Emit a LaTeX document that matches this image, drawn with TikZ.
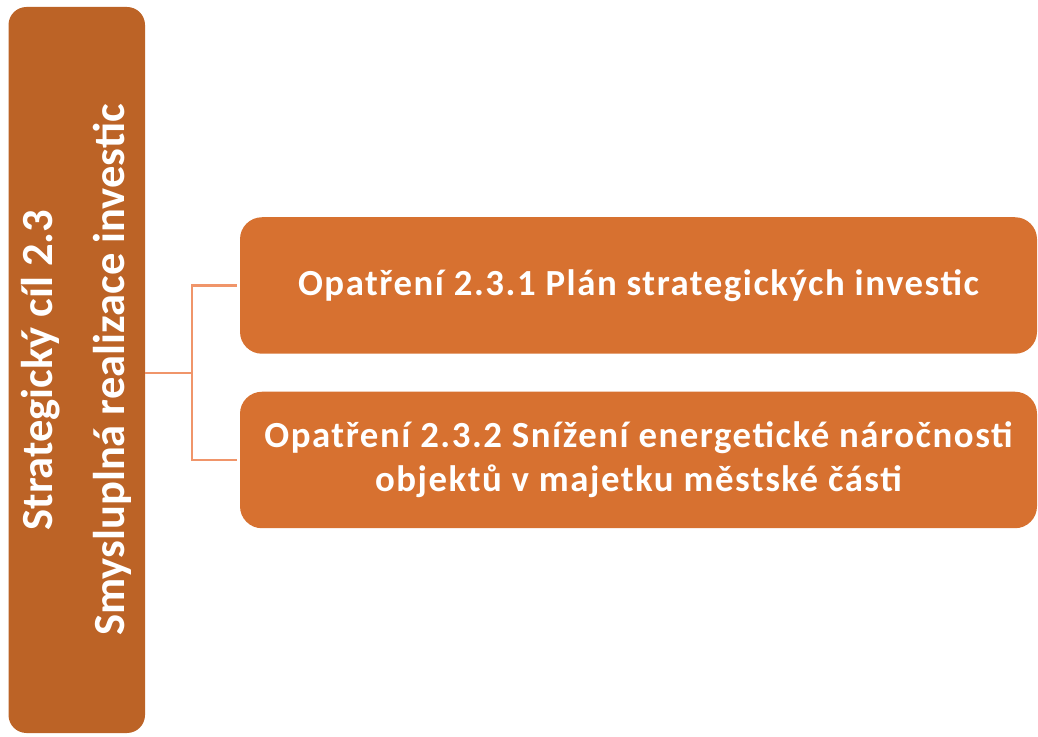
\documentclass[tikz,border=0pt]{standalone}
\usepackage{fontspec}
\setmainfont{Carlito}
\newfontfamily\measurefont[LetterSpace=4.2]{Carlito}
\definecolor{goaldark}{HTML}{BC6326}
\definecolor{measure}{HTML}{D77130}
\definecolor{linkline}{HTML}{F0956A}
\tikzset{
  goalbox/.style={fill=goaldark, draw=none, rounded corners=18pt, inner sep=0pt},
  measurebox/.style={fill=measure, draw=none, rounded corners=22pt, inner sep=0pt,
    minimum width=797pt, minimum height=136.5pt, text=white, align=center,
    font=\measurefont\bfseries\fontsize{36.8}{44}\selectfont},
  goaltext/.style={text=white, align=center, rotate=90,
    font=\bfseries\fontsize{44.5}{72}\selectfont},
  conn/.style={draw=linkline, line width=2.2pt}
}
\begin{document}
\begin{tikzpicture}[x=1pt,y=1pt]
  \useasboundingbox (0,0) rectangle (1038,736);
  % strategic goal (vertical bar)
  \node[goalbox, minimum width=136.5pt, minimum height=726pt] (goal) at (76.75,366) {};
  \node[goaltext] (goaltxt) at (goal.center) {Strategický cíl 2.3\\Smysluplná realizace investic};
  % measures
  \node[measurebox] (m1) at (638.5,450.5) {Opatření 2.3.1 Plán strategických investic};
  \node[measurebox] (m2) at (638.5,276) {Opatření 2.3.2 Snížení energetické náročnosti\\objektů v majetku městské části};
  % connectors
  \coordinate (elbow) at (192,363);
  \draw[conn] (goal.east |- elbow) -- (elbow);
  \draw[conn] (elbow) |- ([xshift=-3pt]m1.west);
  \draw[conn] (elbow) |- ([xshift=-3pt]m2.west);
\end{tikzpicture}
\end{document}
